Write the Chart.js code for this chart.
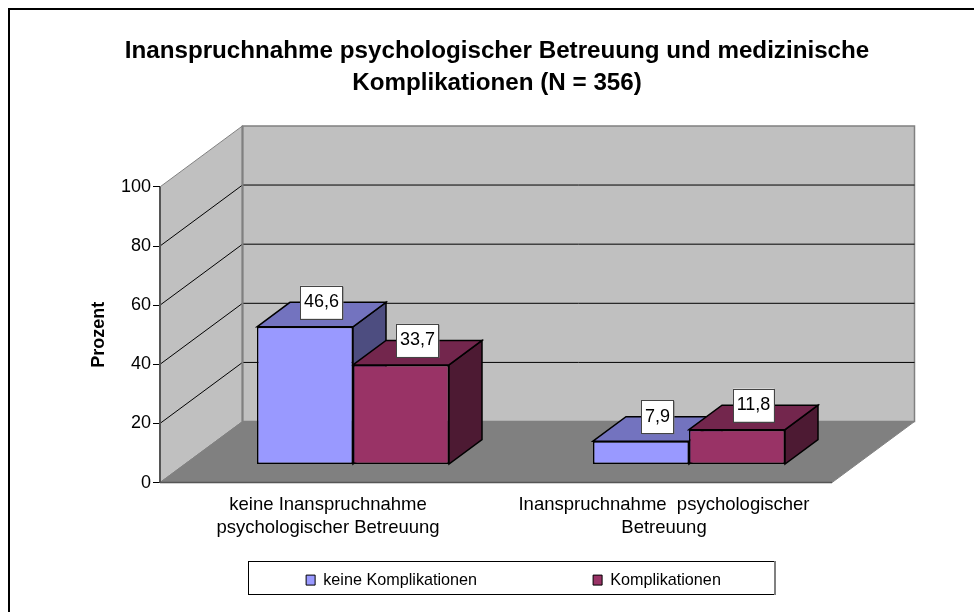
<!DOCTYPE html>
<html><head><meta charset="utf-8">
<style>html,body{margin:0;padding:0;background:#fff}canvas{display:block}</style>
<script src="https://cdn.jsdelivr.net/npm/chart.js@4"></script>
</head><body><canvas id="c" width="974" height="612"></canvas>
<script>
const categories = [["keine Inanspruchnahme","psychologischer Betreuung"],["Inanspruchnahme  psychologischer","Betreuung"]];
const seriesNames = ["keine Komplikationen","Komplikationen"];
const keineKomplikationen = [46.6, 7.9];
const komplikationen = [33.7, 11.8];
const yTicks = [0,20,40,60,80,100];
const chartTitle = ["Inanspruchnahme psychologischer Betreuung und medizinische","Komplikationen (N = 356)"];
const axisTitle = "Prozent";
const frontColors = ["#9999FF","#993366"];
const topColors = ["#7373BF","#73264D"];
const sideColors = ["#4D4D80","#4D1A33"];

const FONT = "'Liberation Sans', Arial, sans-serif";
const WALL_D = {x:82.5, y:-61};   // depth of the whole 3D box
const BAR_OFF = {x:25, y:-18};    // bars sit this far behind the front plane
const BAR_D = {x:33, y:-24.5};    // depth of a bar

const poly = (ctx, pts, fill, stroke, lw) => {
  ctx.beginPath();
  pts.forEach((p,i)=> i?ctx.lineTo(p[0],p[1]):ctx.moveTo(p[0],p[1]));
  ctx.closePath();
  if (fill){ctx.fillStyle=fill;ctx.fill();}
  if (stroke){ctx.strokeStyle=stroke;ctx.lineWidth=lw||1;ctx.stroke();}
};
const line = (ctx,a,b,col,lw) => {
  ctx.beginPath();ctx.moveTo(a[0],a[1]);ctx.lineTo(b[0],b[1]);
  ctx.strokeStyle=col;ctx.lineWidth=lw||1;ctx.stroke();
};

const scene3d = {
  id:'scene3d',
  afterLayout(chart){
    const l = chart.legend;
    const w = l.right - l.left, h = l.bottom - l.top;
    const top = 456, left = 177.5;
    l.left = left; l.right = left + w; l.top = top; l.bottom = top + h;
    const t = chart.titleBlock;
    t.left = 60; t.right = 934; t.width = 874;
  },
  beforeDraw(chart){
    const {ctx} = chart;
    ctx.save();
    ctx.strokeStyle='#000';ctx.lineWidth=2;
    ctx.beginPath();ctx.moveTo(9,612);ctx.lineTo(9,9);ctx.lineTo(974,9);ctx.stroke();
    ctx.fillStyle='#fff';ctx.strokeStyle='#000';ctx.lineWidth=1;
    ctx.fillRect(248.5,561.5,526,33);ctx.strokeRect(248.5,561.5,526,33);
    line(ctx,[775,561],[775,595],'#808080',2);
    ctx.restore();
  },
  beforeDatasetsDraw(chart){
    const {ctx, chartArea:a, scales:{y}} = chart;
    const d = WALL_D, L=a.left, R=a.right, T=y.getPixelForValue(100), B=y.getPixelForValue(0);
    ctx.save();
    // walls and floor
    poly(ctx,[[L,T],[L+d.x,T+d.y],[L+d.x,B+d.y],[L,B]],'#C0C0C0','#808080',1);
    poly(ctx,[[L+d.x,T+d.y],[R+d.x,T+d.y],[R+d.x,B+d.y],[L+d.x,B+d.y]],'#C0C0C0','#808080',1.5);
    poly(ctx,[[L,B],[L+d.x,B+d.y],[R+d.x,B+d.y],[R,B]],'#808080','#808080',1);
    // grid
    yTicks.forEach(v=>{
      if(v===0||v===100) return;
      const p=y.getPixelForValue(v);
      line(ctx,[L,p],[L+d.x,p+d.y],'#000',1);
      line(ctx,[L+d.x,p+d.y],[R+d.x,p+d.y],'#000',1);
    });
    line(ctx,[L+d.x,T+d.y],[L+d.x,B+d.y],'#808080',2);
    line(ctx,[L,T],[L,B],'#555',2);
    line(ctx,[L,B],[R,B],'#555',1.5);
    // tops and sides of bars, in drawing order
    chart.data.datasets.forEach((ds,di)=>{
      chart.getDatasetMeta(di).data.forEach(bar=>{
        const hw=bar.width/2, x0=bar.x-hw+BAR_OFF.x, x1=bar.x+hw+BAR_OFF.x, t=bar.y+BAR_OFF.y, b=bar.base+BAR_OFF.y;
        const D=BAR_D;
        poly(ctx,[[x1,t],[x1+D.x,t+D.y],[x1+D.x,b+D.y],[x1,b]],sideColors[di],'#000',1.5);
        poly(ctx,[[x0,t],[x0+D.x,t+D.y],[x1+D.x,t+D.y],[x1,t]],topColors[di],'#000',1.5);
      });
    });
    ctx.restore();
    ctx.save();
    ctx.translate(BAR_OFF.x,BAR_OFF.y);
  },
  afterDatasetsDraw(chart){
    const {ctx} = chart;
    ctx.restore();
    ctx.save();
    ctx.font="18px "+FONT;ctx.textAlign='center';ctx.textBaseline='middle';
    chart.data.datasets.forEach((ds,di)=>{
      chart.getDatasetMeta(di).data.forEach((bar,i)=>{
        const txt=ds.data[i].toFixed(1).replace('.',',');
        const cx=bar.x+BAR_OFF.x+BAR_D.x/2, cy=bar.y+BAR_OFF.y+BAR_D.y;
        const w=ctx.measureText(txt).width+7, h=33;
        ctx.fillStyle='#777';ctx.fillRect(cx-w/2+1,cy-h/2+1,w,h);
        ctx.fillStyle='#fff';ctx.fillRect(cx-w/2,cy-h/2,w,h);
        ctx.strokeStyle='#444';ctx.lineWidth=1;ctx.strokeRect(Math.round(cx-w/2)+.5,Math.round(cy-h/2)+.5,Math.round(w),h);
        ctx.fillStyle='#000';ctx.fillText(txt,cx,cy);
      });
    });
    ctx.restore();
  }
};

Chart.defaults.font.family = FONT;
Chart.defaults.color = '#000';
new Chart(document.getElementById('c'),{
  type:'bar',
  plugins:[scene3d],
  data:{labels:categories,datasets:[
    {label:seriesNames[0],data:keineKomplikationen,backgroundColor:frontColors[0],borderColor:'#000',borderWidth:1.5,borderSkipped:false},
    {label:seriesNames[1],data:komplikationen,backgroundColor:frontColors[1],borderColor:'#000',borderWidth:1.5,borderSkipped:false}
  ]},
  options:{
    responsive:false,animation:false,
    devicePixelRatio:1,
    layout:{padding:{left:10,right:142,top:0,bottom:-73}},
    datasets:{bar:{categoryPercentage:192/336,barPercentage:1}},
    plugins:{
      tooltip:{enabled:false},
      title:{display:true,text:chartTitle,fullSize:false,color:'#000',
        font:{size:24.2,weight:'bold',family:FONT,lineHeight:1.3},
        padding:{top:36,bottom:88}},
      legend:{display:true,position:'bottom',fullSize:false,
        labels:{boxWidth:9,boxHeight:10,padding:116,color:'#000',font:{size:16.2,family:FONT},
          generateLabels(chart){
            return chart.data.datasets.map((ds,i)=>({text:ds.label,fillStyle:ds.backgroundColor,strokeStyle:'#000',lineWidth:1,datasetIndex:i,fontColor:'#000'}));
          }}}
    },
    scales:{
      x:{offset:true,grid:{display:false},border:{display:false},
        ticks:{autoSkip:false,maxRotation:0,minRotation:0,padding:3,color:'#000',font:{size:18.5,lineHeight:1.25,family:FONT}}},
      y:{min:0,max:100,
        afterFit(s){s.width=150;},
        afterBuildTicks(s){s.ticks=yTicks.map(v=>({value:v}));},
        grid:{drawOnChartArea:false,drawTicks:true,tickLength:7,color:'#000'},
        border:{display:false},
        ticks:{padding:2,color:'#000',font:{size:18,family:FONT}},
        title:{display:true,text:axisTitle,color:'#000',font:{size:18,weight:'bold',family:FONT},padding:{top:78,bottom:0}}}
    }
  }
});
</script></body></html>
